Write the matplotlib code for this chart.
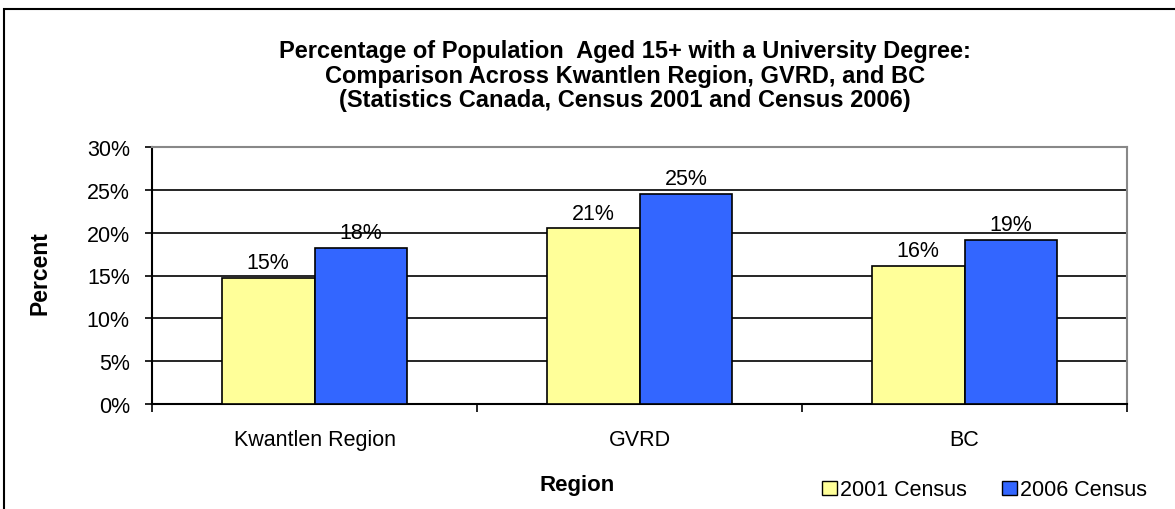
import matplotlib
matplotlib.use("Agg")
import matplotlib.pyplot as plt
from matplotlib.patches import Rectangle, Patch
import numpy as np

plt.rcParams['font.family'] = ['Liberation Sans', 'DejaVu Sans']

categories = ["Kwantlen Region", "GVRD", "BC"]
series_names = ["2001 Census", "2006 Census"]
values_2001 = [14.7, 20.5, 16.1]
values_2006 = [18.2, 24.5, 19.2]
labels_2001 = ["15%", "21%", "16%"]
labels_2006 = ["18%", "25%", "19%"]
yticks = [0, 5, 10, 15, 20, 25, 30]

W, H = 1175, 510
FS = 15.5
fig = plt.figure(figsize=(W/100, H/100), dpi=100)
ax = fig.add_axes([152/W, 1-405/H, (1127-152)/W, (405-148)/H])

x = np.arange(len(categories))
bw = 0.285
b1 = ax.bar(x - bw/2, values_2001, bw, color="#FFFF99", edgecolor="black", linewidth=1.2, zorder=3)
b2 = ax.bar(x + bw/2, values_2006, bw, color="#3366FF", edgecolor="black", linewidth=1.2, zorder=3)

for bars, labs in ((b1, labels_2001), (b2, labels_2006)):
    for rect, lab in zip(bars, labs):
        ax.text(rect.get_x()+rect.get_width()/2, rect.get_height()+0.55, lab,
                ha="center", va="bottom", fontsize=FS, zorder=4)

ax.set_xlim(-0.5, len(categories)-0.5)
ax.set_ylim(0, 30)
ax.set_yticks(yticks)
ax.set_yticklabels([f"{v}%" for v in yticks], fontsize=FS)
ax.yaxis.grid(True, color="black", linewidth=1.2, zorder=0)
ax.set_axisbelow(True)

ax.set_xticks(np.arange(-0.5, len(categories), 1.0))
ax.set_xticklabels([])
ax.set_xticks(x, minor=True)
ax.set_xticklabels(categories, minor=True, fontsize=FS)
ax.tick_params(axis="x", which="minor", length=0, pad=18)
ax.tick_params(axis="x", which="major", length=6, width=1.2, direction="out")
ax.tick_params(axis="y", length=5, width=1.2, direction="out", pad=11)

for s in ["left", "bottom"]:
    ax.spines[s].set_color("black")
    ax.spines[s].set_linewidth(1.5)
for s in ["top", "right"]:
    ax.spines[s].set_color("#888888")
    ax.spines[s].set_linewidth(1.5)

title = ("Percentage of Population  Aged 15+ with a University Degree:\n"
         "Comparison Across Kwantlen Region, GVRD, and BC\n"
         "(Statistics Canada, Census 2001 and Census 2006)")
fig.text(625/W, 1-76/H, title, ha="center", va="center", fontsize=17,
         fontweight="bold", linespacing=1.1)

fig.text(40/W, 1-273/H, "Percent", rotation=90, ha="center", va="center",
         fontsize=16.5, fontweight="bold")
fig.text(577/W, 1-486/H, "Region", ha="center", va="center",
         fontsize=16, fontweight="bold")

handles = [Patch(facecolor="#FFFF99", edgecolor="black"),
           Patch(facecolor="#3366FF", edgecolor="black")]
fig.legend(handles, series_names, loc="center left",
           bbox_to_anchor=(822/W, 1-491/H), ncol=2, frameon=False,
           fontsize=FS, handlelength=0.68, handleheight=0.68,
           handletextpad=0.14, columnspacing=1.65, borderaxespad=0, borderpad=0)

fig.add_artist(Rectangle((4/W, -0.1), 1.2, 1-10/H+0.1, transform=fig.transFigure,
                         fill=False, edgecolor="black", linewidth=1.5))

fig.savefig("out.png", dpi=100)
